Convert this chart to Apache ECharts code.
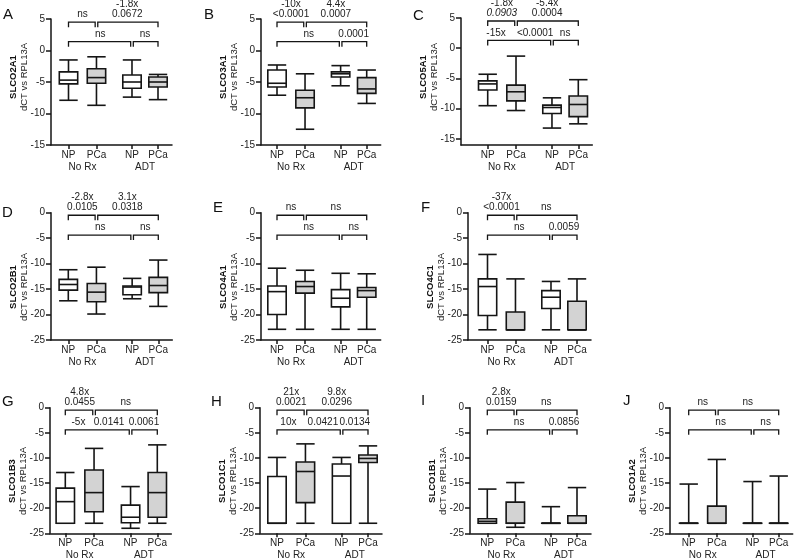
<!DOCTYPE html>
<html><head><meta charset="utf-8">
<script src="https://cdn.jsdelivr.net/npm/echarts@6/dist/echarts.min.js"></script>
<style>html,body{margin:0;padding:0;background:#fff}#c{width:800px;height:560px}</style>
</head><body><div id="c"></div>
<script>
// ---------------- data ----------------
const panelLetters = ['A','B','C','D','E','F','G','H','I','J'];
const genes = ['SLCO2A1','SLCO3A1','SLCO5A1','SLCO2B1','SLCO4A1','SLCO4C1','SLCO1B3','SLCO1C1','SLCO1B1','SLCO1A2'];
const yAxisTitle = 'dCT vs RPL13A';
const categories = ['NP','PCa','NP','PCa'];
const treatmentGroups = ['No Rx','ADT'];
const yTicksTop = [5,0,-5,-10,-15];
const yTicksLower = [0,-5,-10,-15,-20,-25];

// each row: [min, Q1, median, Q3, max] for NP(No Rx), PCa(No Rx), NP(ADT), PCa(ADT)
const boxA = [[-7.9,-5.3,-4.7,-3.4,-1.5],[-8.7,-5.2,-4.3,-2.9,-1.0],[-7.4,-6.0,-5.0,-3.9,-1.5],[-7.8,-5.8,-5.0,-4.2,-3.8]];
const boxB = [[-7.1,-5.8,-5.2,-3.1,-2.3],[-12.5,-9.1,-7.5,-6.3,-3.7],[-5.6,-4.2,-3.7,-3.4,-2.4],[-8.4,-6.8,-6.1,-4.3,-3.1]];
const boxC = [[-9.5,-6.9,-5.9,-5.4,-4.3],[-10.3,-8.7,-7.2,-6.1,-1.3],[-13.2,-10.8,-9.8,-9.4,-8.2],[-12.5,-11.3,-9.3,-7.9,-5.2]];
const boxD = [[-17.3,-15.2,-14.1,-13.1,-11.2],[-19.9,-17.5,-15.6,-13.9,-10.7],[-16.9,-16.1,-14.6,-14.4,-12.9],[-18.4,-15.7,-14.3,-12.7,-9.3]];
const boxE = [[-22.9,-20.0,-15.5,-14.4,-10.9],[-22.9,-15.8,-14.5,-13.5,-11.3],[-22.9,-18.5,-16.8,-15.1,-11.9],[-22.9,-16.6,-15.3,-14.7,-12.0]];
const boxF = [[-23,-20.2,-14.5,-13.0,-8.2],[-23,-23,-23,-19.5,-13.0],[-23,-18.8,-16.6,-15.3,-13.5],[-23,-23,-23,-17.4,-13.0]];
const boxG = [[-23,-23,-18.7,-16.0,-12.9],[-23,-20.7,-16.9,-12.4,-8.1],[-24,-22.9,-21.8,-19.4,-15.7],[-23,-21.8,-16.9,-12.9,-7.4]];
const boxH = [[-23,-23,-23,-13.7,-9.9],[-23,-18.9,-12.7,-10.8,-7.2],[-23,-23,-13.6,-11.2,-9.9],[-23,-10.9,-10.1,-9.4,-7.6]];
const boxI = [[-23,-23,-22.6,-22.1,-16.2],[-23.8,-23,-23,-18.8,-14.9],[-23,-23,-23,-23,-19.7],[-23,-23,-23,-21.5,-15.9]];
const boxJ = [[-23,-23,-23,-23,-15.2],[-23,-23,-23,-19.6,-10.3],[-23,-23,-23,-23,-14.7],[-23,-23,-23,-23,-13.6]];
const boxes = [boxA,boxB,boxC,boxD,boxE,boxF,boxG,boxH,boxI,boxJ];

// comparison labels: [NP vs PCa (No Rx), PCa No Rx vs PCa ADT, NP No Rx vs NP ADT, NP vs PCa (ADT)]
const sigA = ['ns','-1.8x\n0.0672','ns','ns'];
const sigB = ['-10x\n<0.0001','4.4x\n0.0007','ns','0.0001'];
const sigC = ['-1.8x\n{i|0.0903}','-5.4x\n0.0004','-15x    <0.0001','ns'];
const sigD = ['-2.8x\n0.0105','3.1x\n0.0318','ns','ns'];
const sigE = ['ns','ns','ns','ns'];
const sigF = ['-37x\n<0.0001','ns','ns','0.0059'];
const sigG = ['4.8x\n0.0455','ns','-5x   0.0141','0.0061'];
const sigH = ['21x\n0.0021','9.8x\n0.0296','10x    0.0421','0.0134'];
const sigI = ['2.8x\n0.0159','ns','ns','0.0856'];
const sigJ = ['ns','ns','ns','ns'];
const sigs = [sigA,sigB,sigC,sigD,sigE,sigF,sigG,sigH,sigI,sigJ];
const comparisons = [[0,1],[1,3],[0,2],[2,3]];

// ---------------- layout (positions / sizes only) ----------------
const catPos = [1, 2, 3.27, 4.2];
const groupPos = [1.5, 3.735];
const layout = [
  {ax:51,  x0:68.5,  x3:158,   top:19,    bottom:145,   ymin:-15, ymax:5, br:[4.5,1.4],   lx:3,   ly:7,   ny:77},
  {ax:261, x0:277,   x3:366.7, top:19,    bottom:145,   ymin:-15, ymax:5, br:[4.5,1.4],   lx:204, ly:7,   ny:77},
  {ax:461, x0:487.7, x3:578.3, top:18,    bottom:145,   ymin:-16, ymax:5, br:[4.5,1.3],   lx:413, ly:8,   ny:77},
  {ax:51,  x0:68.3,  x3:158.3, top:212.7, bottom:340,   ymin:-25, ymax:0, br:[-0.5,-4.4], lx:2,   ly:205, ny:287},
  {ax:261, x0:277,   x3:366.7, top:212.7, bottom:340,   ymin:-25, ymax:0, br:[-0.5,-4.4], lx:213, ly:200, ny:287},
  {ax:468, x0:487.5, x3:577,   top:212.7, bottom:340,   ymin:-25, ymax:0, br:[-0.5,-4.4], lx:421, ly:200, ny:287},
  {ax:50,  x0:65.3,  x3:157.3, top:407.7, bottom:533.3, ymin:-25, ymax:0, br:[-0.5,-4.4], lx:2,   ly:394, ny:481},
  {ax:260, x0:277,   x3:368,   top:407.7, bottom:533.3, ymin:-25, ymax:0, br:[-0.5,-4.4], lx:211, ly:394, ny:481},
  {ax:470, x0:487.3, x3:577,   top:407.7, bottom:533.3, ymin:-25, ymax:0, br:[-0.5,-4.4], lx:421, ly:393, ny:481},
  {ax:670, x0:688.7, x3:778.7, top:407.7, bottom:533.3, ymin:-25, ymax:0, br:[-0.5,-4.4], lx:623, ly:393, ny:481}
];

const FONT = 'Liberation Sans, Arial, Helvetica, sans-serif';
const INK = '#151515';
const TXT = '#222';
const PCA_FILL = '#d3d3d3';

function nearestIdx(arr, v){ let b=0; for(let k=1;k<arr.length;k++){ if(Math.abs(arr[k]-v)<Math.abs(arr[b]-v)) b=k; } return b; }

function boxRender(params, api){
  const x = api.value(0);
  const pMin = api.coord([x, api.value(1)]);
  const pQ1 = api.coord([x, api.value(2)]);
  const pMed = api.coord([x, api.value(3)]);
  const pQ3 = api.coord([x, api.value(4)]);
  const pMax = api.coord([x, api.value(5)]);
  const cx = pMin[0];
  const hw = 9.2;
  const ls = {stroke: INK, lineWidth: 1.6};
  const fill = api.value(6) ? PCA_FILL : '#ffffff';
  return {type:'group', children:[
    {type:'line', shape:{x1:cx,y1:pMax[1],x2:cx,y2:pQ3[1]}, style:ls},
    {type:'line', shape:{x1:cx,y1:pQ1[1],x2:cx,y2:pMin[1]}, style:ls},
    {type:'line', shape:{x1:cx-hw,y1:pMax[1],x2:cx+hw,y2:pMax[1]}, style:ls},
    {type:'line', shape:{x1:cx-hw,y1:pMin[1],x2:cx+hw,y2:pMin[1]}, style:ls},
    {type:'rect', shape:{x:cx-hw,y:pQ3[1],width:2*hw,height:Math.max(0.01,pQ1[1]-pQ3[1])}, style:{fill:fill, stroke:INK, lineWidth:1.6}},
    {type:'line', shape:{x1:cx-hw,y1:pMed[1],x2:cx+hw,y2:pMed[1]}, style:ls}
  ]};
}

function makeBracketRender(labels){
  return function(params, api){
    const k = params.dataIndex;
    const a = api.coord([api.value(0), api.value(2)]);
    const b = api.coord([api.value(1), api.value(2)]);
    const xa = a[0] + ((k===1||k===3) ? 1.3 : 0);
    const xb = b[0] - ((k===0||k===2) ? 1.3 : 0);
    const y = a[1];
    const tick = 5;
    return {type:'group', children:[
      {type:'polyline', shape:{points:[[xa,y+tick],[xa,y],[xb,y],[xb,y+tick]]}, style:{stroke:INK, fill:null, lineWidth:1.3}},
      {type:'text', x:(a[0]+b[0])/2, y:y-2.5, style:{
        text: labels[k], fill:TXT, fontSize:10, fontFamily:FONT, lineHeight:10,
        align:'center', verticalAlign:'bottom', textAlign:'center', textVerticalAlign:'bottom',
        rich:{i:{fontStyle:'italic', fontSize:10, fontFamily:FONT, fill:TXT, lineHeight:10}}
      }}
    ]};
  };
}

const grids=[], xAxes=[], yAxes=[], series=[], graphics=[];
layout.forEach((L,i)=>{
  const sc = (L.x3-L.x0)/(catPos[3]-catPos[0]);
  const xmin = catPos[0] - (L.x0-L.ax)/sc;
  const xmax = catPos[3] + 14/sc;
  grids.push({left:L.ax, top:L.top, width:(xmax-xmin)*sc, height:L.bottom-L.top, containLabel:false, outerBoundsMode:'none'});
  const lineStyle = {color:INK, width:1.5};
  xAxes.push({gridIndex:i, type:'value', min:xmin, max:xmax, position:'bottom',
    axisLine:{show:true, onZero:false, lineStyle},
    axisTick:{show:true, customValues:catPos, length:4, lineStyle},
    axisLabel:{customValues:catPos, formatter:(v)=>categories[nearestIdx(catPos,v)], margin:5, fontSize:10, color:TXT, fontFamily:FONT},
    splitLine:{show:false}});
  xAxes.push({gridIndex:i, type:'value', min:xmin, max:xmax, position:'bottom', offset:12,
    axisLine:{show:false}, axisTick:{show:false},
    axisLabel:{customValues:groupPos, formatter:(v)=>treatmentGroups[nearestIdx(groupPos,v)], margin:5, fontSize:10, color:TXT, fontFamily:FONT},
    splitLine:{show:false}});
  const ticks = i<3 ? yTicksTop : yTicksLower;
  yAxes.push({gridIndex:i, type:'value', min:L.ymin, max:L.ymax,
    axisLine:{show:true, onZero:false, lineStyle},
    axisTick:{show:true, customValues:ticks, length:5, lineStyle},
    axisLabel:{customValues:ticks, margin:6, fontSize:10, color:TXT, fontFamily:FONT},
    splitLine:{show:false}});
  series.push({type:'custom', name:genes[i], xAxisIndex:2*i, yAxisIndex:i, clip:false, silent:true,
    encode:{x:0, y:[1,2,3,4,5]},
    data: boxes[i].map((r,k)=>[catPos[k], r[0], r[1], r[2], r[3], r[4], k%2]),
    renderItem: boxRender});
  series.push({type:'custom', name:genes[i]+' stats', xAxisIndex:2*i, yAxisIndex:i, clip:false, silent:true,
    encode:{x:[0,1], y:2},
    data: comparisons.map((c,k)=>[catPos[c[0]], catPos[c[1]], L.br[k<2?0:1]]),
    renderItem: makeBracketRender(sigs[i])});
  graphics.push({type:'text', left:L.lx, top:L.ly, style:{text:panelLetters[i], fontSize:15, fontFamily:FONT, fill:'#111'}});
  graphics.push({type:'text', x:L.ax-32, y:L.ny, rotation:Math.PI/2, style:{
    text:'{b|'+genes[i]+'}\n{n|'+yAxisTitle+'}', align:'center', verticalAlign:'middle', textAlign:'center', textVerticalAlign:'middle',
    rich:{b:{fontWeight:'bold', fontSize:9.5, fontFamily:FONT, fill:'#111', lineHeight:11},
          n:{fontSize:9.5, fontFamily:FONT, fill:TXT, lineHeight:11}}}});
});

const chart = echarts.init(document.getElementById('c'), null, {renderer:'canvas', width:800, height:560});
chart.setOption({
  animation:false,
  backgroundColor:'#ffffff',
  textStyle:{fontFamily:FONT},
  grid:grids, xAxis:xAxes, yAxis:yAxes, series:series, graphic:graphics
});
</script></body></html>
